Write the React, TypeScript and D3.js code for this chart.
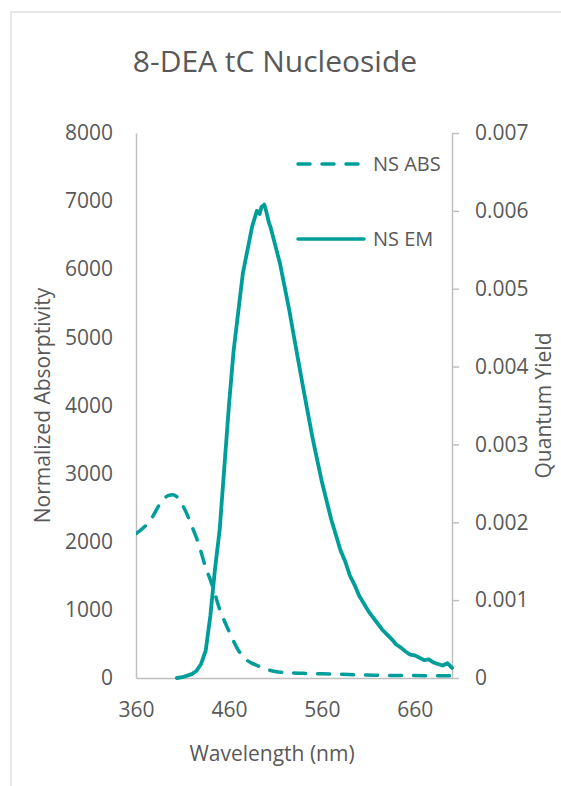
import React, { useRef, useEffect } from 'react';
import * as d3 from 'd3';

// absorption (left axis)
const absWl = [360, 365, 370, 375, 380, 385, 390, 395, 400, 405, 410, 415, 420, 425, 430, 435, 440, 445, 450, 455, 460, 465, 470, 475, 480, 485, 490, 500, 510, 520, 540, 560, 580, 600, 620, 650, 680, 700];
const absVal = [2120, 2170, 2230, 2300, 2420, 2540, 2630, 2680, 2690, 2645, 2540, 2400, 2230, 2060, 1850, 1620, 1440, 1230, 1010, 840, 690, 540, 410, 320, 255, 215, 185, 130, 95, 80, 68, 62, 55, 45, 40, 36, 34, 32];

// emission (right axis, quantum yield)
const emWl = [404, 410, 415, 420, 425, 430, 435, 440, 445, 450, 455, 460, 465, 470, 475, 480, 485, 490, 493, 495, 498, 500, 503, 505, 510, 515, 520, 525, 530, 535, 540, 545, 550, 555, 560, 565, 570, 575, 580, 585, 590, 595, 600, 605, 610, 615, 620, 625, 630, 635, 640, 645, 650, 655, 660, 665, 670, 675, 680, 685, 690, 695, 700];
const emVal = [0, 0.00001, 0.00003, 0.00005, 0.00009, 0.00018, 0.00035, 0.0008, 0.0014, 0.0019, 0.0027, 0.0035, 0.0042, 0.0047, 0.0052, 0.0055, 0.0058, 0.006, 0.00596, 0.00605, 0.00608, 0.006, 0.00585, 0.00578, 0.00555, 0.00532, 0.00502, 0.00472, 0.00438, 0.00405, 0.00372, 0.0034, 0.00308, 0.0028, 0.00252, 0.00228, 0.00204, 0.00184, 0.00164, 0.0015, 0.00132, 0.0012, 0.00106, 0.00096, 0.00086, 0.00078, 0.0007, 0.00062, 0.00056, 0.0005, 0.00043, 0.00039, 0.00034, 0.0003, 0.00029, 0.00026, 0.00023, 0.00024, 0.0002, 0.00018, 0.00016, 0.00019, 0.00013];

const xTicks = [360, 460, 560, 660];
const leftTicks = [0, 1000, 2000, 3000, 4000, 5000, 6000, 7000, 8000];
const rightTicks = [0, 0.001, 0.002, 0.003, 0.004, 0.005, 0.006, 0.007];

const W = 561;
const H = 786;
const TEAL = '#009e9a';
const TXT = '#595959';
const AXIS = '#bfbfbf';
const FONT = '"Open Sans", sans-serif';

const App: React.FC = () => {
  const svgRef = useRef<SVGSVGElement>(null);

  useEffect(() => {
    const svg = d3.select(svgRef.current);
    svg.selectAll('*').remove();

    const left = 136, right = 452, top = 133, bottom = 678;

    const x = d3.scaleLinear().domain([360, 700]).range([left, right]);
    const yL = d3.scaleLinear().domain([0, 8000]).range([bottom, top]);
    const yR = d3.scaleLinear().domain([0, 0.007]).range([bottom, top]);

    svg.append('rect')
      .attr('x', 11).attr('y', 12)
      .attr('width', 620).attr('height', 820)
      .attr('fill', 'white')
      .attr('stroke', '#d9d9d9').attr('stroke-width', 1.2);

    svg.append('text')
      .attr('x', 275).attr('y', 72)
      .attr('text-anchor', 'middle')
      .attr('font-family', FONT).attr('font-size', 30)
      .attr('fill', TXT)
      .text('8-DEA tC Nucleoside');

    const styleAxis = (g: d3.Selection<SVGGElement, unknown, null, undefined>) => {
      g.selectAll('text').attr('font-family', FONT).attr('font-size', 21).attr('fill', TXT);
      g.select('.domain').attr('stroke', AXIS).attr('stroke-width', 1.5);
      g.selectAll('.tick line').attr('stroke', AXIS).attr('stroke-width', 1.5);
    };

    const gL = svg.append('g').attr('transform', `translate(${left},0)`)
      .call(d3.axisLeft(yL).tickValues(leftTicks).tickSize(0).tickPadding(23).tickFormat(d3.format('d')));
    styleAxis(gL as any);

    const gR = svg.append('g').attr('transform', `translate(${right},0)`)
      .call(d3.axisRight(yR).tickValues(rightTicks).tickSizeInner(7).tickSizeOuter(0).tickPadding(16)
        .tickFormat(d => (+d === 0 ? '0' : d3.format('.3f')(+d))));
    styleAxis(gR as any);

    const gB = svg.append('g').attr('transform', `translate(0,${bottom})`)
      .call(d3.axisBottom(x).tickValues(xTicks).tickSize(0).tickPadding(24).tickFormat(d3.format('d')));
    styleAxis(gB as any);

    svg.append('text')
      .attr('x', 272).attr('y', 761)
      .attr('text-anchor', 'middle')
      .attr('font-family', FONT).attr('font-size', 21).attr('fill', TXT)
      .text('Wavelength (nm)');

    svg.append('text')
      .attr('transform', `translate(50,${(top + bottom) / 2}) rotate(-90)`)
      .attr('text-anchor', 'middle')
      .attr('font-family', FONT).attr('font-size', 21).attr('fill', TXT)
      .text('Normalized Absorptivity');

    svg.append('text')
      .attr('transform', `translate(551,${(top + bottom) / 2}) rotate(-90)`)
      .attr('text-anchor', 'middle')
      .attr('font-family', FONT).attr('font-size', 21).attr('fill', TXT)
      .text('Quantum Yield');

    svg.append('clipPath').attr('id', 'plot-clip')
      .append('rect')
      .attr('x', left).attr('y', top - 10)
      .attr('width', right - left + 4).attr('height', bottom - top + 14);

    const absLine = d3.line<number>()
      .x((_, i) => x(absWl[i]))
      .y(d => yL(d))
      .curve(d3.curveMonotoneX);

    const emLine = d3.line<number>()
      .x((_, i) => x(emWl[i]))
      .y(d => yR(d))
      .curve(d3.curveLinear);

    const plot = svg.append('g').attr('clip-path', 'url(#plot-clip)');

    plot.append('path')
      .attr('d', absLine(absVal))
      .attr('fill', 'none')
      .attr('stroke', TEAL).attr('stroke-width', 3.5)
      .attr('stroke-dasharray', '12,12')
      .attr('stroke-linecap', 'round');

    plot.append('path')
      .attr('d', emLine(emVal))
      .attr('fill', 'none')
      .attr('stroke', TEAL).attr('stroke-width', 3.8)
      .attr('stroke-linejoin', 'round')
      .attr('stroke-linecap', 'round');

    // legend
    const legend = [
      { label: 'NS ABS', dash: '12,12', y: 164 },
      { label: 'NS EM', dash: null, y: 239 },
    ];
    legend.forEach(item => {
      svg.append('line')
        .attr('x1', 298).attr('x2', 364)
        .attr('y1', item.y).attr('y2', item.y)
        .attr('stroke', TEAL).attr('stroke-width', 3.5)
        .attr('stroke-linecap', 'round')
        .attr('stroke-dasharray', item.dash);
      svg.append('text')
        .attr('x', 373).attr('y', item.y + 7)
        .attr('font-family', FONT).attr('font-size', 20).attr('fill', TXT)
        .text(item.label);
    });
  }, []);

  return (
    <svg ref={svgRef} width={W} height={H} style={{ position: 'absolute', left: 0, top: 0 }} />
  );
};

export default App;
